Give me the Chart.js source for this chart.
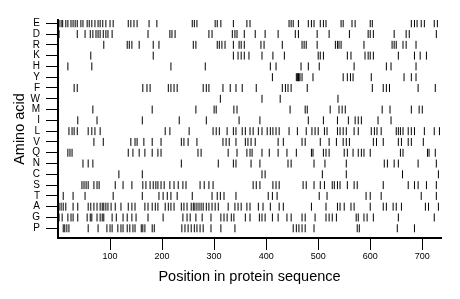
<!DOCTYPE html>
<html>
<head>
<meta charset="utf-8">
<script src="https://cdn.jsdelivr.net/npm/chart.js@4.4.1/dist/chart.umd.min.js"></script>
<style>
  html, body { margin: 0; padding: 0; background: #fff; }
  canvas { display: block; }
</style>
</head>
<body>
<canvas id="seqChart" width="460" height="299"></canvas>
<script>
// residues, top row first
const aminoAcids = ['E', 'D', 'R', 'K', 'H', 'Y', 'F', 'W', 'M', 'I', 'L', 'V', 'Q', 'N', 'C', 'S', 'T', 'A', 'G', 'P'];
const xTicks = [100, 200, 300, 400, 500, 600, 700];
const seqLength = 736;

// positions of each residue along the sequence
const posE = [2, 6, 9, 15, 19, 25, 29, 33, 37, 44, 48, 56, 60, 65, 71, 77, 81, 86, 92, 100, 106, 135, 140, 146, 152, 175, 190, 258, 262, 267, 302, 306, 313, 337, 363, 369, 444, 448, 452, 462, 481, 487, 492, 504, 510, 515, 544, 548, 565, 571, 600, 604, 679, 685, 690, 698, 704, 723, 729];
const posD = [2, 37, 52, 62, 67, 73, 77, 81, 87, 92, 96, 104, 173, 215, 219, 225, 290, 296, 335, 340, 344, 358, 379, 398, 423, 456, 462, 498, 521, 560, 596, 600, 606, 646, 669, 675, 727];
const posR = [88, 133, 137, 142, 156, 183, 194, 260, 265, 306, 310, 315, 321, 337, 348, 352, 358, 390, 396, 431, 469, 473, 477, 498, 533, 537, 540, 544, 588, 642, 646, 650, 663, 669, 688];
const posK = [63, 183, 337, 346, 352, 358, 367, 392, 413, 435, 500, 504, 510, 556, 563, 590, 596, 600, 606, 654, 685, 696, 708];
const posH = [19, 65, 217, 283, 408, 419, 467, 481, 502, 569, 631, 640, 688];
const posY = [412, 458, 460, 462, 463, 465, 469, 490, 548, 556, 562, 567, 602, 665, 679, 688];
const posF = [31, 37, 163, 171, 177, 212, 217, 223, 229, 279, 285, 290, 317, 331, 342, 354, 381, 431, 437, 442, 448, 479, 604, 625, 631, 637, 692, 725];
const posW = [312, 392, 427, 538];
const posM = [67, 181, 265, 300, 304, 338, 344, 446, 475, 479, 523, 540, 546, 552, 623, 638, 679, 694, 700];
const posI = [38, 75, 162, 233, 285, 348, 388, 481, 510, 537, 558, 571, 577, 583, 615, 640];
const posL = [21, 27, 31, 37, 58, 65, 71, 81, 206, 215, 252, 298, 304, 310, 325, 337, 342, 354, 360, 369, 375, 385, 392, 402, 408, 413, 419, 425, 444, 460, 477, 488, 494, 500, 512, 517, 537, 542, 548, 554, 569, 577, 602, 608, 613, 621, 650, 654, 658, 663, 673, 679, 685, 704, 723, 733];
const posV = [69, 87, 140, 148, 152, 165, 181, 198, 237, 242, 250, 267, 317, 323, 329, 342, 360, 365, 371, 379, 423, 433, 469, 475, 504, 521, 535, 548, 554, 560, 606, 612, 625, 654, 660, 673, 679, 702];
const posQ = [19, 23, 27, 135, 144, 156, 167, 181, 192, 198, 269, 275, 327, 344, 363, 369, 373, 392, 406, 423, 440, 458, 487, 490, 510, 515, 521, 550, 556, 567, 577, 583, 588, 600, 658, 663, 710, 713, 725];
const posN = [48, 58, 67, 237, 308, 337, 342, 371, 388, 442, 448, 492, 513, 554, 627, 633, 646, 654, 692, 727];
const posC = [117, 162, 392, 398, 508, 554, 662, 731];
const posS = [46, 50, 54, 58, 69, 75, 79, 110, 125, 142, 163, 169, 177, 183, 188, 192, 198, 204, 215, 223, 231, 240, 246, 273, 281, 290, 298, 375, 381, 388, 413, 419, 425, 471, 477, 492, 504, 512, 527, 531, 537, 542, 556, 569, 575, 625, 673, 685, 692, 708, 727];
const posT = [10, 29, 52, 106, 162, 194, 202, 210, 217, 229, 258, 296, 306, 312, 319, 342, 404, 412, 421, 502, 517, 592, 600, 621, 698, 727];
const posA = [2, 6, 10, 15, 29, 38, 58, 63, 69, 75, 81, 85, 88, 92, 96, 102, 110, 121, 135, 142, 148, 167, 173, 181, 187, 192, 206, 212, 217, 223, 237, 242, 248, 256, 260, 263, 267, 271, 275, 279, 285, 290, 296, 302, 308, 327, 340, 346, 352, 363, 369, 385, 394, 408, 425, 433, 487, 515, 537, 542, 550, 563, 569, 600, 625, 631, 644, 650, 660, 706, 712, 731];
const posG = [2, 8, 19, 25, 29, 38, 56, 62, 65, 75, 81, 85, 88, 104, 112, 125, 133, 142, 150, 173, 202, 240, 248, 254, 265, 277, 294, 313, 319, 325, 333, 338, 360, 369, 387, 392, 398, 412, 423, 440, 448, 469, 475, 494, 515, 521, 527, 535, 573, 577, 588, 594, 606, 654, 723];
const posP = [10, 13, 17, 21, 58, 77, 94, 100, 104, 115, 121, 125, 133, 138, 144, 148, 160, 163, 167, 181, 185, 238, 244, 250, 256, 262, 267, 273, 279, 294, 313, 340, 452, 458, 463, 469, 475, 492, 575, 579, 652, 685];

const positions = [posE, posD, posR, posK, posH, posY, posF, posW, posM, posI, posL, posV, posQ, posN, posC, posS, posT, posA, posG, posP];

const datasets = positions.map((list, row) => ({
  label: aminoAcids[row],
  data: list.map(p => ({ x: p, y: row })),
  pointStyle: 'line',
  rotation: 90,
  pointRadius: 4,
  pointBorderWidth: 1,
  pointBorderColor: '#000',
  pointBackgroundColor: '#000'
}));

Chart.defaults.color = '#000';
Chart.defaults.font.family = '"Liberation Sans", Arial, sans-serif';

new Chart(document.getElementById('seqChart'), {
  type: 'scatter',
  data: { datasets },
  options: {
    responsive: false,
    animation: false,
    devicePixelRatio: 1,
    layout: { padding: { top: 20, right: 19, left: 0, bottom: 0 } },
    plugins: {
      legend: { display: false },
      tooltip: { enabled: false }
    },
    scales: {
      x: {
        type: 'linear',
        min: 0,
        max: seqLength,
        afterBuildTicks: scale => { scale.ticks = xTicks.map(v => ({ value: v })); },
        afterFit: scale => { scale.height = 61; },
        border: { color: '#000', width: 2 },
        grid: { drawOnChartArea: false, tickLength: 12, tickColor: '#000', lineWidth: 1 },
        ticks: { font: { size: 9 }, padding: 1, maxRotation: 0 },
        title: {
          display: true,
          text: 'Position in protein sequence',
          font: { size: 14.5 },
          padding: { top: 0, bottom: 13 }
        }
      },
      y: {
        type: 'linear',
        reverse: true,
        min: -0.3,
        max: 19.9,
        afterBuildTicks: scale => { scale.ticks = aminoAcids.map((_, i) => ({ value: i })); },
        afterFit: scale => { scale.width = 58; },
        border: { color: '#000', width: 2 },
        grid: { drawOnChartArea: false, tickLength: 12, tickColor: '#000', lineWidth: 1 },
        ticks: {
          font: { size: 10 },
          padding: 6,
          autoSkip: false,
          callback: v => aminoAcids[v]
        },
        title: {
          display: true,
          text: 'Amino acid',
          font: { size: 14.5 },
          padding: { top: 11, bottom: 0 }
        }
      }
    }
  }
});
</script>
</body>
</html>
